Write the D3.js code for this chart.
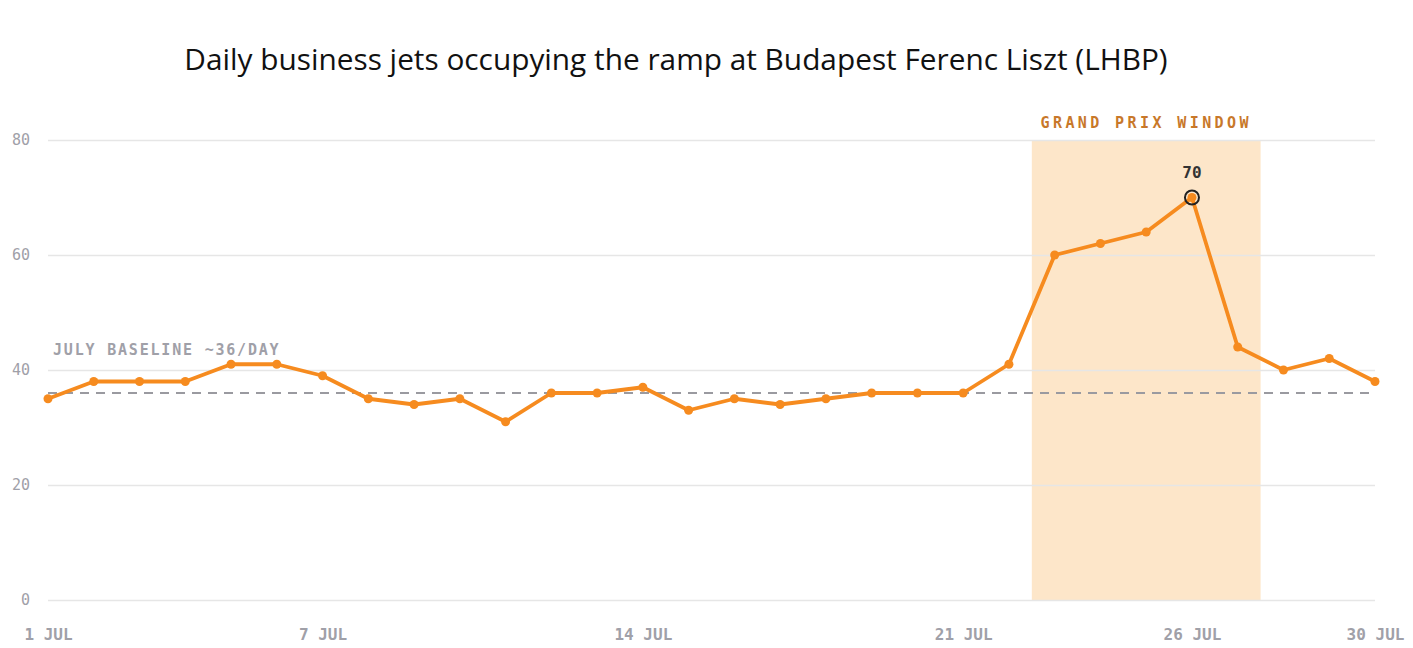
<!DOCTYPE html>
<html><head><meta charset="utf-8">
<script src="https://cdn.jsdelivr.net/npm/d3@7"></script>
<style>
html,body{margin:0;padding:0;background:#fff;}
svg{display:block;}
</style></head>
<body>
<svg id="chart" width="1413" height="648"></svg>
<script>
const days = d3.range(1, 31);
const jets = [35,38,38,38,41,41,39,35,34,35,31,36,36,37,33,35,34,35,36,36,36,41,60,62,64,70,44,40,42,38];
const yTicks = [0,20,40,60,80];
const xTickDays = [1,7,14,21,26,30];
const baseline = 36;
const windowRange = [22.5, 27.5];
const peakDay = 26;

const svg = d3.select("#chart");
const mono = "'DejaVu Sans Mono','Liberation Mono',monospace";
const x = d3.scaleLinear().domain([1,30]).range([48,1375]);
const y = d3.scaleLinear().domain([0,80]).range([600,140]);

svg.append("text").attr("x",676).attr("y",70).attr("text-anchor","middle")
  .attr("font-family","'Open Sans','Noto Sans',sans-serif").attr("font-size",29.8).attr("fill","#111")
  .text("Daily business jets occupying the ramp at Budapest Ferenc Liszt (LHBP)");

// window
svg.append("rect").attr("x",x(windowRange[0])).attr("y",y(80))
  .attr("width",x(windowRange[1])-x(windowRange[0])).attr("height",y(0)-y(80))
  .attr("fill","#fde6c9");

// gridlines
const yAxis = d3.axisLeft(y).tickValues(yTicks).tickSize(-(1375-48)).tickPadding(18);
const gy = svg.append("g").attr("transform","translate(48,0)").call(yAxis);
gy.select(".domain").remove();
gy.selectAll(".tick line").attr("stroke","#e6e6e6").attr("stroke-width",1.5);
gy.selectAll(".tick text").attr("font-family",mono).attr("font-size",15).attr("fill","#a0a0a8");

const xAxis = d3.axisBottom(x).tickValues(xTickDays).tickFormat(d=>d+" JUL").tickSize(0).tickPadding(19);
const gx = svg.append("g").attr("transform","translate(0,610)").call(xAxis);
gx.select(".domain").remove();
gx.selectAll(".tick text").attr("font-family",mono).attr("font-size",16).attr("font-weight","bold").attr("fill","#a0a0a8");

// window label
svg.append("text").attr("x",(x(windowRange[0])+x(windowRange[1]))/2).attr("y",128)
  .attr("text-anchor","middle").attr("font-family",mono).attr("font-size",15).attr("font-weight","bold")
  .attr("letter-spacing",3.4).attr("fill","#c8782a").text("GRAND PRIX WINDOW");

// baseline
svg.append("line").attr("x1",x(1)).attr("x2",x(30)).attr("y1",y(baseline)).attr("y2",y(baseline))
  .attr("stroke","#9a9aa0").attr("stroke-width",2).attr("stroke-dasharray","9,7");
svg.append("text").attr("x",53).attr("y",355).attr("font-family",mono).attr("font-size",15)
  .attr("font-weight","bold").attr("letter-spacing",1.8).attr("fill","#a0a0a8").text("JULY BASELINE ~36/DAY");

// line
const data = days.map((d,i)=>({d, v:jets[i]}));
svg.append("path").datum(data).attr("fill","none").attr("stroke","#f68b1f").attr("stroke-width",3.8)
  .attr("stroke-linejoin","round")
  .attr("d", d3.line().x(p=>x(p.d)).y(p=>y(p.v)));
svg.selectAll("circle.pt").data(data).enter().append("circle").attr("class","pt")
  .attr("cx",p=>x(p.d)).attr("cy",p=>y(p.v)).attr("r",4.5).attr("fill","#f68b1f");

const peak = data.find(p=>p.d===peakDay);
svg.append("circle").attr("cx",x(peak.d)).attr("cy",y(peak.v)).attr("r",7)
  .attr("fill","none").attr("stroke","#222").attr("stroke-width",2);
svg.append("text").attr("x",x(peak.d)).attr("y",y(peak.v)-20).attr("text-anchor","middle")
  .attr("font-family",mono).attr("font-size",16).attr("font-weight","bold").attr("fill","#333").text(peak.v);
</script>
</body></html>
